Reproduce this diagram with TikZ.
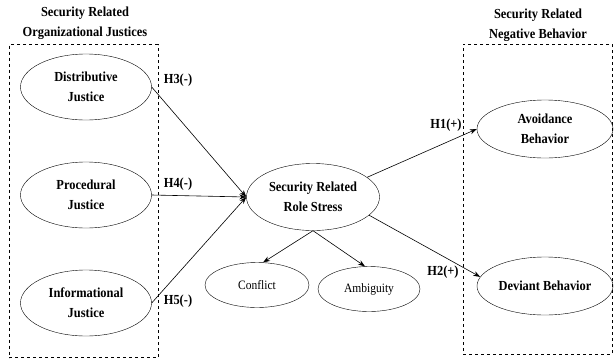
\documentclass[tikz,border=0pt]{standalone}
\usepackage{fontspec}
\setmainfont{Liberation Serif}[FakeStretch=0.9]
\usetikzlibrary{arrows.meta,shapes.geometric}
\begin{document}
\begin{tikzpicture}[x=1pt,y=-1pt,
  ell/.style={draw,ellipse,inner sep=0pt,align=center,font=\fontsize{13.8}{20}\selectfont\bfseries},
  smell/.style={draw,ellipse,inner sep=0pt,align=center,font=\fontsize{12.8}{14}\selectfont},
  ttl/.style={align=center,font=\fontsize{13.8}{20}\selectfont\bfseries},
  hlab/.style={font=\fontsize{13.8}{15}\selectfont\bfseries},
  box/.style={draw,dashed,line width=0.6pt},
  arr/.style={-{Stealth[length=7pt,width=5pt]},line width=0.6pt}]
\useasboundingbox (0,0) rectangle (614,360);
% boxes
\node[box,minimum width=149pt,minimum height=313pt,inner sep=0pt] (lbox) at (83.5,201) {};
\node[box,minimum width=149pt,minimum height=310pt,inner sep=0pt] (rbox) at (537.5,199) {};
\node[ttl] (lt) at (85,23) {Security Related\\Organizational Justices};
\node[ttl] (rt) at (538,25) {Security Related\\Negative Behavior};
% left ellipses
\node[ell,minimum width=131pt,minimum height=66pt] (dj) at (86,87) {Distributive\\Justice};
\node[ell,minimum width=131pt,minimum height=66pt] (pj) at (86,195) {Procedural\\Justice};
\node[ell,minimum width=131pt,minimum height=66pt] (ij) at (86,303) {Informational\\Justice};
% centre
\node[ell,minimum width=133pt,minimum height=67pt] (st) at (313,197) {Security Related\\Role Stress};
\node[smell,minimum width=104pt,minimum height=45pt] (cf) at (257,285) {Conflict};
\node[smell,minimum width=102pt,minimum height=45pt] (am) at (369,289) {Ambiguity};
% right
\node[ell,minimum width=136pt,minimum height=58pt] (av) at (545,129) {Avoidance\\Behavior};
\node[ell,minimum width=136pt,minimum height=58pt] (dv) at (545,286) {Deviant Behavior};
% labels
\node[hlab] (h3) at (178,80) {H3(-)};
\node[hlab] (h4) at (178,184) {H4(-)};
\node[hlab] (h5) at (178,301) {H5(-)};
\node[hlab] (h1) at (446,125) {H1(+)};
\node[hlab] (h2) at (443,272) {H2(+)};
% arrows
\draw[arr] (dj.east) -- (st.west);
\draw[arr] (pj.east) -- (st.west);
\draw[arr] (ij.east) -- (st.west);
\draw[arr] (st.20) -- (av.west);
\draw[arr] (st.-18) -- (dv.172);
\draw[arr] (st.south) -- (cf.75);
\draw[arr] (st.south) -- (am.100);
\end{tikzpicture}
\end{document}
